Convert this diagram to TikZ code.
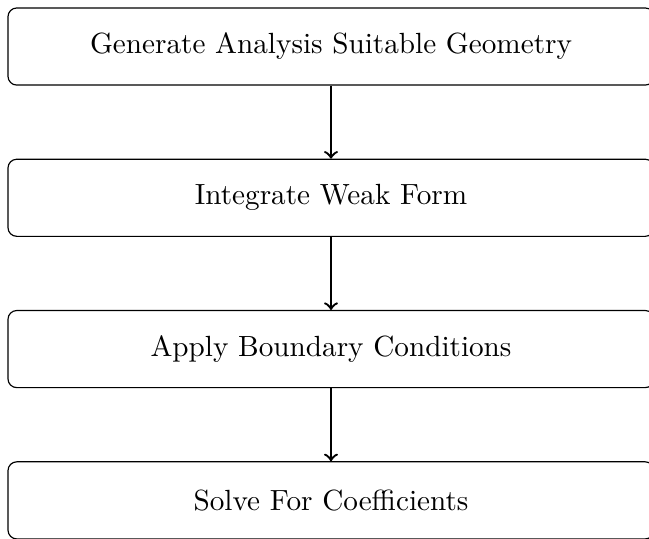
\documentclass[tikz,border=0pt]{standalone}
\usepackage{tikz}
\usetikzlibrary{positioning,arrows.meta}
\begin{document}
\begin{tikzpicture}[x=0.3424pt, y=0.3424pt, >=to, node distance=25pt,
    stage/.style={draw, rectangle, rounded corners=3pt, minimum width=221.2pt, minimum height=26.4pt, inner sep=0pt}]
    \useasboundingbox (0,0) rectangle (649,-538);
    \node[stage] (geom) at (331,-46.5) {Generate Analysis Suitable Geometry};
    \node[stage, below=of geom] (weak) {Integrate Weak Form};
    \node[stage, below=of weak] (bc) {Apply Boundary Conditions};
    \node[stage, below=of bc] (solve) {Solve For Coefficients};
    \draw[->, thick] (geom) -- (weak);
    \draw[->, thick] (weak) -- (bc);
    \draw[->, thick] (bc) -- (solve);
\end{tikzpicture}
\end{document}
